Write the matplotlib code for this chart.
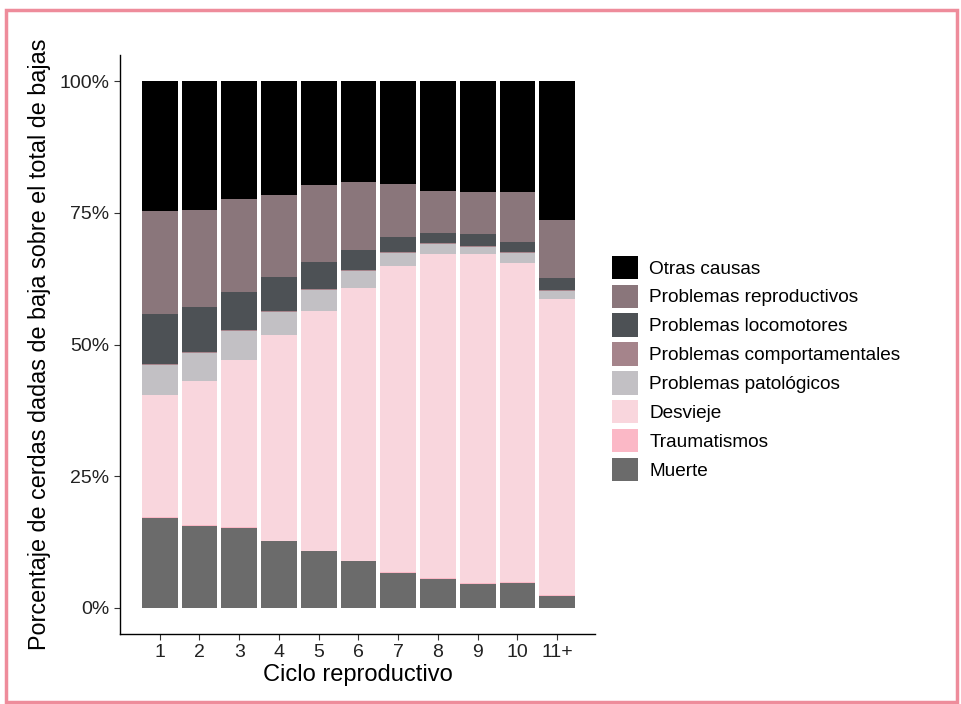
import numpy as np
import matplotlib
matplotlib.use("Agg")
import matplotlib.pyplot as plt
from matplotlib.patches import Patch, Rectangle

plt.rcParams['font.family'] = ['Liberation Sans', 'DejaVu Sans']

ciclos = ["1", "2", "3", "4", "5", "6", "7", "8", "9", "10", "11+"]

# percentages per cause, bottom of the stack first
muerte = [17.1, 15.6, 15.2, 12.6, 10.7, 8.8, 6.6, 5.5, 4.5, 4.7, 2.3]
traumatismos = [0.2, 0.2, 0.1, 0.1, 0.1, 0.1, 0.1, 0.1, 0.1, 0.1, 0.1]
desvieje = [23.2, 27.3, 31.8, 39.1, 45.6, 51.8, 58.2, 61.6, 62.6, 60.7, 56.2]
patologicos = [5.6, 5.2, 5.4, 4.4, 4.0, 3.2, 2.5, 1.8, 1.3, 1.9, 1.5]
comportamentales = [0.2, 0.2, 0.2, 0.2, 0.2, 0.2, 0.2, 0.2, 0.2, 0.2, 0.2]
locomotores = [9.5, 8.6, 7.2, 6.4, 5.0, 3.8, 2.8, 2.0, 2.2, 1.9, 2.3]
reproductivos = [19.5, 18.5, 17.8, 15.6, 14.7, 12.9, 10.1, 7.9, 8.1, 9.4, 11.0]
otras = [24.7, 24.4, 22.3, 21.6, 19.7, 19.2, 19.5, 20.9, 21.0, 21.1, 26.4]

series = [
    ("Muerte", muerte, "#6b6b6b"),
    ("Traumatismos", traumatismos, "#fbb8c6"),
    ("Desvieje", desvieje, "#f9d6dd"),
    ("Problemas patológicos", patologicos, "#c2c0c4"),
    ("Problemas comportamentales", comportamentales, "#a5848b"),
    ("Problemas locomotores", locomotores, "#4d5155"),
    ("Problemas reproductivos", reproductivos, "#8a767b"),
    ("Otras causas", otras, "#000000"),
]

fig = plt.figure(figsize=(9.62, 7.04), dpi=100)
ax = fig.add_axes([120 / 962, 70 / 704, 475 / 962, 579 / 704])

x = np.arange(1, len(ciclos) + 1)
totals = np.sum([s[1] for s in series], axis=0)
bottom = np.zeros(len(ciclos))
for name, vals, col in series:
    frac = np.array(vals) / totals
    ax.bar(x, frac, 0.9, bottom=bottom, color=col, linewidth=0)
    bottom += frac

ax.set_xlim(0.0, 11.95)
ax.set_ylim(-0.05, 1.05)
ax.set_xticks(x)
ax.set_xticklabels(ciclos)
ax.set_yticks([0, 0.25, 0.5, 0.75, 1.0])
ax.set_yticklabels(["0%", "25%", "50%", "75%", "100%"])
ax.tick_params(labelsize=14, colors="#333333", length=4, width=0.8, labelcolor="#222222")
for side in ["top", "right"]:
    ax.spines[side].set_visible(False)
for side in ["left", "bottom"]:
    ax.spines[side].set_linewidth(1.0)

ax.set_xlabel("Ciclo reproductivo", fontsize=17, labelpad=2)
ax.set_ylabel("Porcentaje de cerdas dadas de baja sobre el total de bajas", fontsize=16.8, labelpad=6)

handles = [Patch(facecolor=col, edgecolor="none", label=name) for name, vals, col in series[::-1]]
fig.legend(handles=handles, loc="center left", bbox_to_anchor=(612 / 962, 0.4766),
           frameon=False, fontsize=13.7, handlelength=1.37, handleheight=1.5,
           handletextpad=0.6, labelspacing=0.3, borderpad=0, borderaxespad=0)

# pink frame around the picture
fig.patches.append(Rectangle((6 / 962, 2 / 704), 951 / 962, 692 / 704, transform=fig.transFigure,
                             fill=False, edgecolor="#ee8c9b", linewidth=2.5))

fig.savefig("out.png", dpi=100)
